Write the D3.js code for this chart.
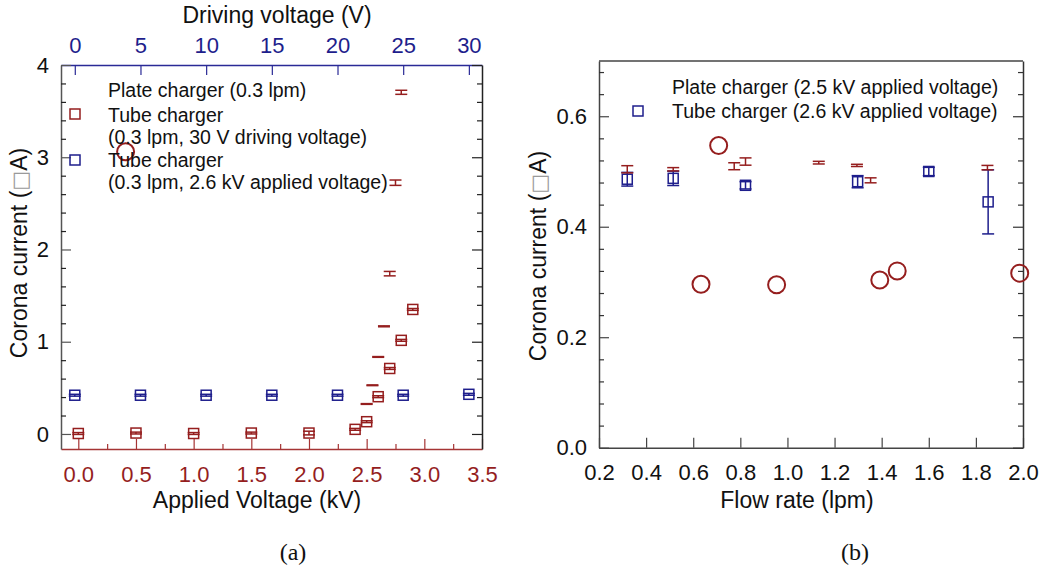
<!DOCTYPE html>
<html>
<head>
<meta charset="utf-8">
<script src="https://cdn.jsdelivr.net/npm/d3@7"></script>
<style>
  body { margin: 0; background: #fff; }
  svg { font-family: 'Liberation Sans', Arial, sans-serif; }
</style>
</head>
<body>
<svg id="fig" width="1044" height="571"></svg>
<script>
// ---- panel (a) data ----
// tube charger, 0.3 lpm, 30 V driving voltage, vs applied voltage (kV)
const tubeKv = [0.0, 0.5, 1.0, 1.5, 2.0, 2.4, 2.5, 2.6, 2.7, 2.8, 2.9]
const tubeKvCurrent = [0.005, 0.01, 0.005, 0.01, 0.01, 0.05, 0.133, 0.404, 0.71, 1.015, 1.35]
const tubeKvErr = [0.01, 0.01, 0.01, 0.01, 0.02, 0.01, 0.01, 0.01, 0.01, 0.01, 0.01]

// tube charger, 0.3 lpm, 2.6 kV, vs driving voltage (V)
const tubeDrive = [0, 5, 10, 15, 20, 25, 30]
const tubeDriveCurrent = [0.42, 0.42, 0.42, 0.42, 0.42, 0.42, 0.43]
const tubeDriveErr = [0.01, 0.01, 0.01, 0.01, 0.01, 0.01, 0.01]

// plate charger, 0.3 lpm (only error bars visible, one stray circle)
const plateKv = [2.5, 2.55, 2.6, 2.65, 2.7, 2.75, 2.8]
const plateKvCurrent = [0.325, 0.528, 0.835, 1.167, 1.738, 2.724, 3.704]
const plateKvErr = [0.004, 0.004, 0.004, 0.005, 0.024, 0.029, 0.022]
const plateCircleKv = [0.41]
const plateCircleCurrent = [3.06]

// ---- panel (b) data ----
// plate charger, 2.5 kV
const plateFlow = [0.633, 0.708, 0.954, 1.392, 1.466, 1.986]
const plateFlowCurrent = [0.296, 0.547, 0.295, 0.3035, 0.320, 0.316]
const plateBarFlow = [0.32, 0.515, 0.774, 0.822, 1.133, 1.295, 1.353, 1.849]
const plateBarCurrent = [0.504, 0.504, 0.5095, 0.518, 0.516, 0.511, 0.484, 0.507]
const plateBarErr = [0.0065, 0.003, 0.0063, 0.0066, 0.0024, 0.002, 0.0045, 0.004]

// tube charger, 2.6 kV
const tubeFlow = [0.32, 0.515, 0.822, 1.298, 1.60, 1.852]
const tubeFlowCurrent = [0.486, 0.4876, 0.475, 0.4815, 0.50, 0.445]
const tubeFlowErr = [0.0124, 0.013, 0.0066, 0.011, 0.0075, 0.058]

// tick values
const kvTicks = [0.0, 0.5, 1.0, 1.5, 2.0, 2.5, 3.0, 3.5]
const driveTicks = [0, 5, 10, 15, 20, 25, 30]
const currentTicksA = [0, 1, 2, 3, 4]
const flowTicks = [0.2, 0.4, 0.6, 0.8, 1.0, 1.2, 1.4, 1.6, 1.8, 2.0]
const currentTicksB = [0.0, 0.2, 0.4, 0.6]

const RED = '#951e1e'
const BLUE = '#1e1e8c'
const svg = d3.select('#fig')

/**
 * Styles the pieces of an axis group.
 */
function styleAxis (g, color, lineColor) {
  g.select('.domain').attr('stroke', lineColor || color).attr('stroke-width', 1.5)
  g.selectAll('.tick line').attr('stroke', lineColor || color).attr('stroke-width', 1.2)
  g.selectAll('.tick text')
    .attr('fill', color)
    .style('font-size', '22px')
    .style('font-family', "'Liberation Sans', Arial, sans-serif")
  return g
}

/**
 * Adds minor ticks with no labels and no domain line.
 */
function minorTicks (axis, values, transform, color) {
  const g = svg.append('g')
    .attr('transform', transform)
    .call(axis.tickValues(values).tickSize(-5).tickSizeOuter(0).tickFormat(''))
  g.select('.domain').remove()
  g.selectAll('.tick line').attr('stroke', color).attr('stroke-width', 1.2)
}

/**
 * Draws vertical error bars with caps.
 */
function errorBars (g, xs, ys, es, x, y, color) {
  const cap = 6
  xs.forEach((v, i) => {
    const px = x(v)
    const y0 = y(ys[i] - es[i])
    const y1 = y(ys[i] + es[i])
    g.append('line').attr('x1', px).attr('x2', px).attr('y1', y0).attr('y2', y1)
      .attr('stroke', color).attr('stroke-width', 1.5)
    ;[y0, y1].forEach(py => {
      g.append('line').attr('x1', px - cap).attr('x2', px + cap).attr('y1', py).attr('y2', py)
        .attr('stroke', color).attr('stroke-width', 1.5)
    })
  })
}

/**
 * Draws hollow square markers.
 */
function squares (g, xs, ys, x, y, color) {
  g.selectAll(null)
    .data(xs.map((v, i) => [v, ys[i]]))
    .enter()
    .append('rect')
    .attr('x', d => x(d[0]) - 5)
    .attr('y', d => y(d[1]) - 5)
    .attr('width', 10)
    .attr('height', 10)
    .attr('fill', 'none')
    .attr('stroke', color)
    .attr('stroke-width', 1.5)
}

/**
 * Draws hollow circle markers.
 */
function circles (g, xs, ys, x, y, color) {
  g.selectAll(null)
    .data(xs.map((v, i) => [v, ys[i]]))
    .enter()
    .append('circle')
    .attr('cx', d => x(d[0]))
    .attr('cy', d => y(d[1]))
    .attr('r', 8.5)
    .attr('fill', 'none')
    .attr('stroke', color)
    .attr('stroke-width', 2)
}

function label (x, y, text, size, opts) {
  const t = svg.append('text')
    .attr('x', x)
    .attr('y', y)
    .attr('text-anchor', (opts && opts.anchor) || 'start')
    .attr('fill', '#111')
    .style('font-size', size + 'px')
  if (opts && opts.rotate) t.attr('transform', `rotate(-90,${x},${y})`)
  if (opts && opts.serif) t.style('font-family', "'Liberation Serif', 'Times New Roman', serif")
  return t.text(text)
}

function yTitle (x, y) {
  const t = label(x, y, 'Corona current (', 23, { anchor: 'middle', rotate: true })
  t.append('tspan').attr('fill', '#9a9a9a').style('font-family', "'DejaVu Sans', sans-serif").style('font-size', '21px').text('\u25A1')
  t.append('tspan').text('A)')
}

// ================= panel (a) =================
const xa = d3.scaleLinear().domain([-0.15, 3.5]).range([61, 482])
const xd = d3.scaleLinear().domain([-1.05, 31.0]).range([61, 482])
const ya = d3.scaleLinear().domain([-0.163, 4]).range([449, 65])

styleAxis(svg.append('g').attr('transform', 'translate(0,449)')
  .call(d3.axisBottom(xa).tickValues(kvTicks).tickSize(-10).tickSizeOuter(0).tickPadding(17).tickFormat(d3.format('.1f'))), RED, '#a53434')
minorTicks(d3.axisBottom(xa), kvTicks.slice(0, -1).map(v => v + 0.25), 'translate(0,449)', '#a53434')

styleAxis(svg.append('g').attr('transform', 'translate(0,65)')
  .call(d3.axisTop(xd).tickValues(driveTicks).tickSize(-10).tickSizeOuter(0).tickPadding(12)), BLUE, '#2a2a96')

styleAxis(svg.append('g').attr('transform', 'translate(61,0)')
  .call(d3.axisLeft(ya).tickValues(currentTicksA).tickSize(-10).tickSizeOuter(0).tickPadding(12).tickFormat(d3.format('d'))), '#111', '#555')
minorTicks(d3.axisLeft(ya), d3.range(1, 20).filter(k => k % 5 !== 0).map(k => k * 0.2), 'translate(61,0)', '#222')

styleAxis(svg.append('g').attr('transform', 'translate(482,0)')
  .call(d3.axisRight(ya).tickValues(currentTicksA).tickSize(-10).tickSizeOuter(0).tickFormat('')), '#111', '#222')
minorTicks(d3.axisRight(ya), d3.range(1, 20).filter(k => k % 5 !== 0).map(k => k * 0.2), 'translate(482,0)', '#222')

const ga = svg.append('g')
errorBars(ga, tubeKv, tubeKvCurrent, tubeKvErr, xa, ya, RED)
squares(ga, tubeKv, tubeKvCurrent, xa, ya, RED)
errorBars(ga, tubeDrive, tubeDriveCurrent, tubeDriveErr, xd, ya, BLUE)
squares(ga, tubeDrive, tubeDriveCurrent, xd, ya, BLUE)
errorBars(ga, plateKv, plateKvCurrent, plateKvErr, xa, ya, RED)
circles(ga, plateCircleKv, plateCircleCurrent, xa, ya, RED)

// legend (a)
label(108, 97, 'Plate charger (0.3 lpm)', 19.5)
label(108, 122, 'Tube charger', 19.5)
label(108, 144, '(0.3 lpm, 30 V driving voltage)', 19.5)
label(108, 167, 'Tube charger', 19.5)
label(108, 189, '(0.3 lpm, 2.6 kV applied voltage)', 19.5)
svg.append('rect').attr('x', 70).attr('y', 109).attr('width', 10).attr('height', 10)
  .attr('fill', 'none').attr('stroke', RED).attr('stroke-width', 1.5)
svg.append('rect').attr('x', 70).attr('y', 155).attr('width', 10).attr('height', 10)
  .attr('fill', 'none').attr('stroke', BLUE).attr('stroke-width', 1.5)

label(277, 23, 'Driving voltage (V)', 23, { anchor: 'middle' })
label(257, 508, 'Applied Voltage (kV)', 23, { anchor: 'middle' })
yTitle(27, 253)
label(293, 560, '(a)', 24, { anchor: 'middle', serif: true })

// ================= panel (b) =================
const xb = d3.scaleLinear().domain([0.2, 2.0]).range([599, 1023])
const yb = d3.scaleLinear().domain([0, 0.7]).range([447.7, 61])

styleAxis(svg.append('g').attr('transform', 'translate(0,447.7)')
  .call(d3.axisBottom(xb).tickValues(flowTicks).tickSize(-10).tickSizeOuter(0).tickPadding(17).tickFormat(d3.format('.1f'))), '#111', '#444')

const minorB = d3.range(1, 18).filter(k => k % 5 !== 0).map(k => k * 0.04)
styleAxis(svg.append('g').attr('transform', 'translate(599,0)')
  .call(d3.axisLeft(yb).tickValues(currentTicksB).tickSize(-10).tickSizeOuter(0).tickPadding(12).tickFormat(d3.format('.1f'))), '#111', '#444')
minorTicks(d3.axisLeft(yb), minorB, 'translate(599,0)', '#333')

styleAxis(svg.append('g').attr('transform', 'translate(1023,0)')
  .call(d3.axisRight(yb).tickValues(currentTicksB).tickSize(-10).tickSizeOuter(0).tickFormat('')), '#111', '#333')
minorTicks(d3.axisRight(yb), minorB, 'translate(1023,0)', '#333')

svg.append('line').attr('x1', 599).attr('x2', 1023).attr('y1', 61).attr('y2', 61)
  .attr('stroke', '#444').attr('stroke-width', 1.5)

const gb = svg.append('g')
errorBars(gb, tubeFlow, tubeFlowCurrent, tubeFlowErr, xb, yb, BLUE)
squares(gb, tubeFlow, tubeFlowCurrent, xb, yb, BLUE)
errorBars(gb, plateBarFlow, plateBarCurrent, plateBarErr, xb, yb, RED)
circles(gb, plateFlow, plateFlowCurrent, xb, yb, RED)

// legend (b)
label(672, 94, 'Plate charger (2.5 kV applied voltage)', 19.5)
label(672, 118, 'Tube charger (2.6 kV applied voltage)', 19.5)
svg.append('rect').attr('x', 633).attr('y', 106).attr('width', 10).attr('height', 10)
  .attr('fill', 'none').attr('stroke', BLUE).attr('stroke-width', 1.5)

label(797, 508, 'Flow rate (lpm)', 23, { anchor: 'middle' })
yTitle(546, 256)
label(855, 560, '(b)', 24, { anchor: 'middle', serif: true })
</script>
</body>
</html>
